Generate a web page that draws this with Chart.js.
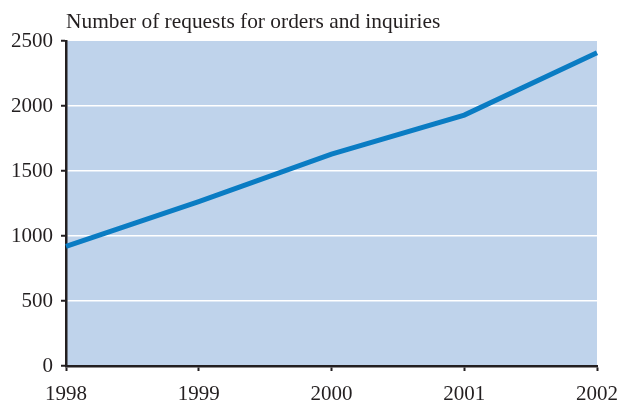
<!DOCTYPE html>
<html>
<head>
<meta charset="utf-8">
<script src="https://cdn.jsdelivr.net/npm/chart.js@4"></script>
<style>
  body { margin: 0; background: #fff; }
  #wrap { width: 620px; height: 401px; }
</style>
</head>
<body>
<div id="wrap"><canvas id="requestsChart" width="620" height="401"></canvas></div>
<script>
// yearly figures
let years = ['1998', '1999', '2000', '2001', '2002']
let requests = [920, 1265, 1630, 1930, 2410]
let yTicks = [0, 500, 1000, 1500, 2000, 2500]
let chartTitle = 'Number of requests for orders and inquiries'

let serif = '"Liberation Serif", "Times New Roman", serif'

// paints the blue plot background and the title above the axes
let plotBg = {
    id: 'plotBg',
    beforeDraw: function (chart) {
        let ctx = chart.ctx
        let a = chart.chartArea
        ctx.save()
        ctx.fillStyle = '#bfd3eb'
        ctx.fillRect(a.left, a.top, a.right - a.left, a.bottom - a.top)
        ctx.restore()
    },
    afterDraw: function (chart) {
        let ctx = chart.ctx
        ctx.save()
        ctx.fillStyle = '#231f20'
        ctx.font = '21.4px ' + serif
        ctx.textBaseline = 'alphabetic'
        ctx.fillText(chartTitle, chart.chartArea.left, 28)
        ctx.restore()
    }
}

let canvs = document.getElementById('requestsChart').getContext('2d')
let chartRequests = new Chart(canvs, {
    type: 'line',
    data: {
        labels: years,
        datasets: [{
            data: requests,
            borderColor: '#0a7cc3',
            borderWidth: 5,
            pointRadius: 0,
            tension: 0,
            fill: false
        }]
    },
    options: {
        responsive: false,
        animation: false,
        layout: { padding: { top: 41, right: 23, left: 0, bottom: 0 } },
        plugins: {
            legend: { display: false },
            tooltip: { enabled: false }
        },
        scales: {
            x: {
                offset: false,
                afterFit: function (scale) {
                    scale.height = 35
                    // let the end labels hang past the plot edges
                    scale.paddingLeft = 0
                    scale.paddingRight = 0
                },
                grid: {
                    drawOnChartArea: false,
                    tickColor: '#231f20',
                    tickLength: 5,
                    tickWidth: 2
                },
                border: { color: '#231f20', width: 2.5 },
                ticks: {
                    color: '#231f20',
                    font: { family: serif, size: 21 },
                    padding: 11,
                    maxRotation: 0
                }
            },
            y: {
                min: 0,
                max: 2500,
                afterFit: function (scale) {
                    scale.width = 66
                    scale.paddingTop = 0
                    scale.paddingBottom = 0
                },
                afterBuildTicks: function (scale) {
                    scale.ticks = yTicks.map(function (v) { return { value: v } })
                },
                grid: {
                    color: function (c) {
                        return (c.tick && c.tick.value > 0 && c.tick.value < 2500) ? '#ffffff' : 'rgba(0,0,0,0)'
                    },
                    lineWidth: 1.5,
                    tickColor: '#231f20',
                    tickLength: 5,
                    tickWidth: 2
                },
                border: { color: '#231f20', width: 2.5 },
                ticks: {
                    color: '#231f20',
                    font: { family: serif, size: 21 },
                    padding: 8,
                    callback: function (v) { return String(v) }
                }
            }
        }
    },
    plugins: [plotBg]
})
</script>
</body>
</html>
